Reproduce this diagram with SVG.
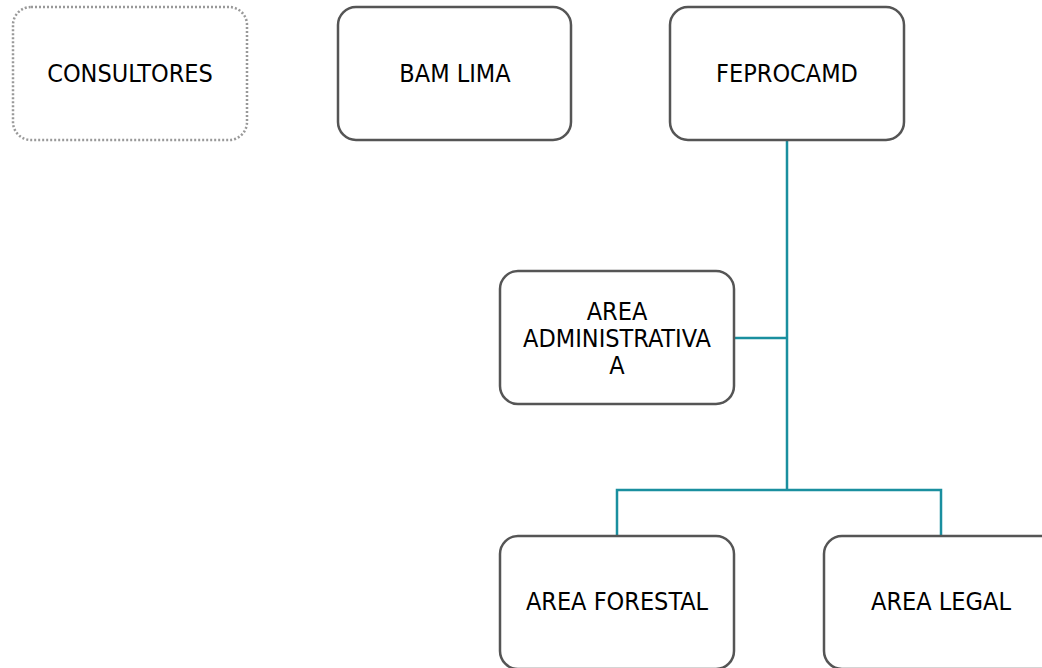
<svg xmlns="http://www.w3.org/2000/svg" width="1042" height="668" viewBox="0 0 1042 668">
<style>
.box{fill:#fff;stroke:#555;stroke-width:2.5}
.dot{fill:#fff;stroke:#999;stroke-width:2.5;stroke-dasharray:2 2}
.lbl{font-family:"DejaVu Sans",sans-serif;font-stretch:condensed;font-size:25px;fill:#000;text-anchor:middle}
.con{fill:none;stroke:#1a8f9f;stroke-width:2.5}
</style>
<rect width="1042" height="668" fill="#fff"/>
<g id="connectors">
<path class="con" d="M787 140V490M734 338H787M617 536V490H941V536"/>
</g>
<g id="consultores">
<rect class="dot" x="13" y="7" width="234" height="133" rx="18"/>
<text class="lbl" x="130" y="82">CONSULTORES</text>
</g>
<g id="bam-lima">
<rect class="box" x="338" y="7" width="233" height="133" rx="18"/>
<text class="lbl" x="455" y="82">BAM LIMA</text>
</g>
<g id="feprocamd">
<rect class="box" x="670" y="7" width="234" height="133" rx="18"/>
<text class="lbl" x="787" y="82">FEPROCAMD</text>
</g>
<g id="area-administrativa">
<rect class="box" x="500" y="271" width="234" height="133" rx="18"/>
<text class="lbl" x="617" y="320">AREA</text>
<text class="lbl" x="617" y="347">ADMINISTRATIVA</text>
<text class="lbl" x="617" y="374">A</text>
</g>
<g id="area-forestal">
<rect class="box" x="500" y="536" width="234" height="133" rx="18"/>
<text class="lbl" x="617" y="610">AREA FORESTAL</text>
</g>
<g id="area-legal">
<rect class="box" x="824" y="536" width="234" height="133" rx="18"/>
<text class="lbl" x="941" y="610">AREA LEGAL</text>
</g>
</svg>
